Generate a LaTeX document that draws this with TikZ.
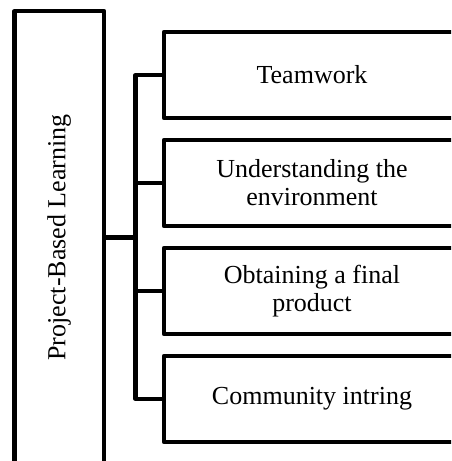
\documentclass[tikz,border=0pt]{standalone}
\usepackage{fontspec}
\setmainfont{Liberation Serif}
\begin{document}
\begin{tikzpicture}[x=1pt,y=-1pt,
  line width=4.2pt, line join=round,
  frame/.style={draw=black, line width=4.2pt, inner sep=0pt, outer sep=0pt,
    align=center, font=\fontsize{26}{28}\selectfont},
  itembox/.style={frame, minimum width=296pt, minimum height=86pt},
  mainbox/.style={frame, minimum width=453pt, minimum height=89.5pt, rotate=90},
  link/.style={draw=black, line width=4.2pt}]
\useasboundingbox (0,0) rectangle (451,461);
\clip (0,0) rectangle (451,461);
\node[mainbox] (main) at (59.25,237.5) {Project-Based Learning};
\node[itembox] (b1) at (312,75) {Teamwork};
\node[itembox] (b2) at (312,183) {Understanding the\\environment};
\node[itembox] (b3) at (312,291) {Obtaining a final\\product};
\node[itembox] (b4) at (312,399) {Community intring};
\coordinate (hub) at (135.5,237.5);
\draw[link] (main.south) -- (hub);
\draw[link] (b1.west) -| (hub) |- (b4.west);
\draw[link] (b2.west) -- (b2.west -| hub);
\draw[link] (b3.west) -- (b3.west -| hub);
\end{tikzpicture}
\end{document}
